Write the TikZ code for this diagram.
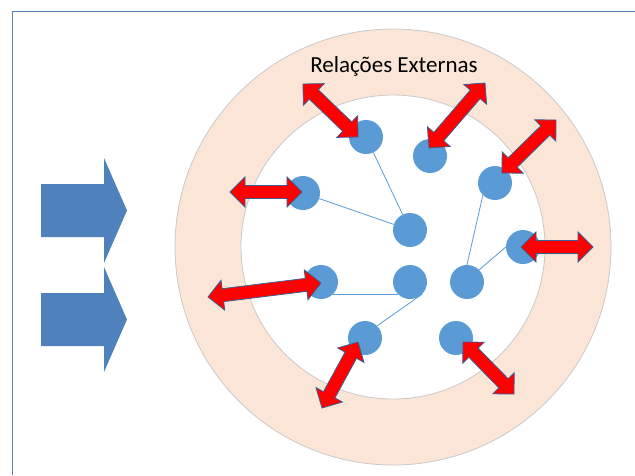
\documentclass[tikz,border=0pt]{standalone}
\usepackage{fontspec}
\setmainfont{Carlito}
\usetikzlibrary{calc}
\definecolor{anel}{HTML}{FBE5D6}
\definecolor{bordaanel}{HTML}{C9C9C9}
\definecolor{bolaazul}{HTML}{5B9BD5}
\definecolor{setaazul}{HTML}{4F81BD}
\definecolor{bordaseta}{HTML}{3C5F91}
\definecolor{moldura}{HTML}{5A82B8}
\tikzset{
  bola/.style={circle, fill=bolaazul, minimum size=34pt, inner sep=0pt},
  elo/.style={draw=bolaazul, line width=0.8pt},
  duplaseta/.style={fill=red, draw=bordaseta, line width=0.8pt, line join=miter},
}
% seta dupla vermelha entre dois pontos
\newcommand{\setadupla}[2]{%
  \draw[duplaseta] (#1) -- ($(#1)!15pt!(#2)!15pt!90:(#2)$) -- ($(#1)!15pt!(#2)!6.5pt!90:(#2)$)
    -- ($(#2)!15pt!(#1)!6.5pt!-90:(#1)$) -- ($(#2)!15pt!(#1)!15pt!-90:(#1)$) -- (#2)
    -- ($(#2)!15pt!(#1)!15pt!90:(#1)$) -- ($(#2)!15pt!(#1)!6.5pt!90:(#1)$)
    -- ($(#1)!15pt!(#2)!6.5pt!-90:(#2)$) -- ($(#1)!15pt!(#2)!15pt!-90:(#2)$) -- cycle;}

\begin{document}
\begin{tikzpicture}[x=1pt, y=-1pt]
            \useasboundingbox (0,0) rectangle (635,475);
            \draw[moldura, line width=1pt] (12,475) -- (12,11) -- (635,11);

            % setas azuis
            \foreach \y in {210.5, 319.5} {
                \fill[setaazul, shift={(0,\y)}] (41,-26.5) -- (104,-26.5) -- (104,-52.5) -- (127,0)
                    -- (104,52.5) -- (104,26.5) -- (41,26.5) -- cycle;
            }

            % anel
            \filldraw[fill=anel, draw=bordaanel, line width=0.8pt] (393,247) circle (218);
            \filldraw[fill=white, draw=bordaanel, line width=0.8pt] (393,247) circle (152);
            \node[anchor=base, font=\fontsize{23}{27}\selectfont] (rotulo) at (394,72) {Relações Externas};

            \foreach \n/\x/\y in {1/366/137, 2/430/156, 3/495/183, 4/303/193, 5/410/230, 6/523/247,
                                  7/321/282, 8/410/282, 9/467/282, 10/365/338, 11/456/338} {
                \node[bola] (c\n) at (\x,\y) {};
            }

            \draw[elo] (c1) -- (c5);
            \draw[elo] (c4) -- (c5);
            \draw[elo] (c7.south east) -- (c8.south west);
            \draw[elo] (c8.south east) -- (c10.north east);
            \draw[elo] (c3.south west) -- (c9.north);
            \draw[elo] (c6.west) -- (c9.north east);

            % pontas das setas vermelhas
            \foreach \n/\xo/\yo/\xi/\yi in {1/303/84/358/137, 2/485/83/429/148, 3/556/120/502/173,
                                            4/230/192/302/192, 5/593/247/521/247, 6/208/297/321/283,
                                            7/322/408/358/342, 8/514/394/463/342} {
                \coordinate (o\n) at (\xo,\yo);
                \coordinate (i\n) at (\xi,\yi);
            }
            \foreach \n in {1,...,8} {
                \setadupla{i\n}{o\n}
            }

        \end{tikzpicture}
\end{document}
